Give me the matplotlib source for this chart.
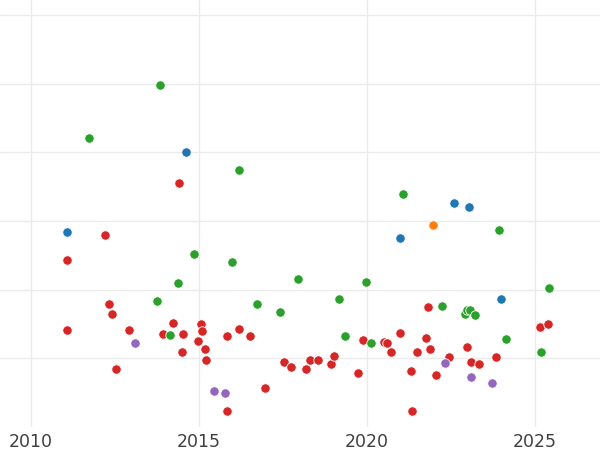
import matplotlib.pyplot as plt
import seaborn as sns

# values (x = year, y = arbitrary units, gridlines at integers)
blue_x = [2011.07, 2014.60, 2022.59, 2023.04, 2020.99, 2023.98]
blue_y = [1.84, 3.00, 2.26, 2.20, 1.75, 0.86]

orange_x = [2021.97]
orange_y = [1.94]

green_x = [2013.83, 2011.72, 2016.20, 2021.07, 2023.93, 2014.84, 2015.97, 2014.37,
           2017.94, 2019.96, 2025.40, 2013.75, 2016.73, 2019.16, 2017.41, 2022.22,
           2022.91, 2022.97, 2023.07, 2023.21, 2014.13, 2019.34, 2020.11, 2024.14,
           2025.16]
green_y = [3.98, 3.21, 2.75, 2.40, 1.87, 1.52, 1.41, 1.10,
           1.16, 1.11, 1.03, 0.83, 0.79, 0.87, 0.67, 0.76,
           0.64, 0.70, 0.70, 0.63, 0.34, 0.32, 0.23, 0.28,
           0.09]

red_x = [2014.41, 2012.19, 2011.07, 2012.33, 2012.40, 2011.08, 2012.93, 2013.94,
         2014.23, 2014.51, 2014.49, 2015.05, 2015.10, 2014.96, 2015.17, 2015.22,
         2012.52, 2015.83, 2016.20, 2016.53, 2016.96, 2015.84, 2017.52, 2017.74,
         2018.19, 2018.31, 2018.53, 2018.92, 2019.01, 2019.74, 2019.88, 2020.51,
         2020.59, 2020.72, 2020.99, 2021.32, 2021.34, 2021.48, 2021.74, 2021.82,
         2021.88, 2022.06, 2022.43, 2022.98, 2023.10, 2023.33, 2023.83, 2025.15,
         2025.38]
red_y = [2.55, 1.80, 1.43, 0.79, 0.65, 0.42, 0.42, 0.35,
         0.51, 0.36, 0.09, 0.50, 0.40, 0.25, 0.13, -0.03,
         -0.16, 0.32, 0.43, 0.33, -0.43, -0.77, -0.05, -0.12,
         -0.16, -0.02, -0.02, -0.08, 0.03, -0.21, 0.27, 0.24,
         0.23, 0.09, 0.37, -0.19, -0.76, 0.09, 0.29, 0.75,
         0.14, -0.24, 0.02, 0.16, -0.05, -0.08, 0.02, 0.46,
         0.50]

purple_x = [2013.10, 2015.44, 2015.76, 2022.33, 2023.10, 2023.73]
purple_y = [0.22, -0.47, -0.50, -0.06, -0.27, -0.36]

x_ticks = [2010, 2015, 2020, 2025]

sns.set_style('whitegrid')

fig = plt.figure(figsize=(6, 4.5), dpi=100)
ax = fig.add_axes([0, 0.051, 1, 0.949])

# red first so the other colours sit on top where they overlap
groups = [(red_x, red_y, '#d62728'),
          (green_x, green_y, '#2ca02c'),
          (purple_x, purple_y, '#9467bd'),
          (blue_x, blue_y, '#1f77b4'),
          (orange_x, orange_y, '#ff7f0e')]
for xs, ys, col in groups:
    ax.scatter(xs, ys, s=46, color=col, edgecolor='white', linewidth=0.6, zorder=3)

ax.set_xlim(2009.08, 2026.93)
ax.set_ylim(-1.0, 5.22)
ax.set_xticks(x_ticks)
ax.set_yticks(range(0, 6))
ax.set_yticklabels([])
ax.tick_params(axis='x', length=0, pad=4.5, labelsize=12.5, labelcolor='0.25')
ax.tick_params(axis='y', length=0)
ax.grid(True, color='#ebebeb', linewidth=1.0)
for s in ax.spines.values():
    s.set_visible(False)

fig.savefig('out.png', dpi=100)
